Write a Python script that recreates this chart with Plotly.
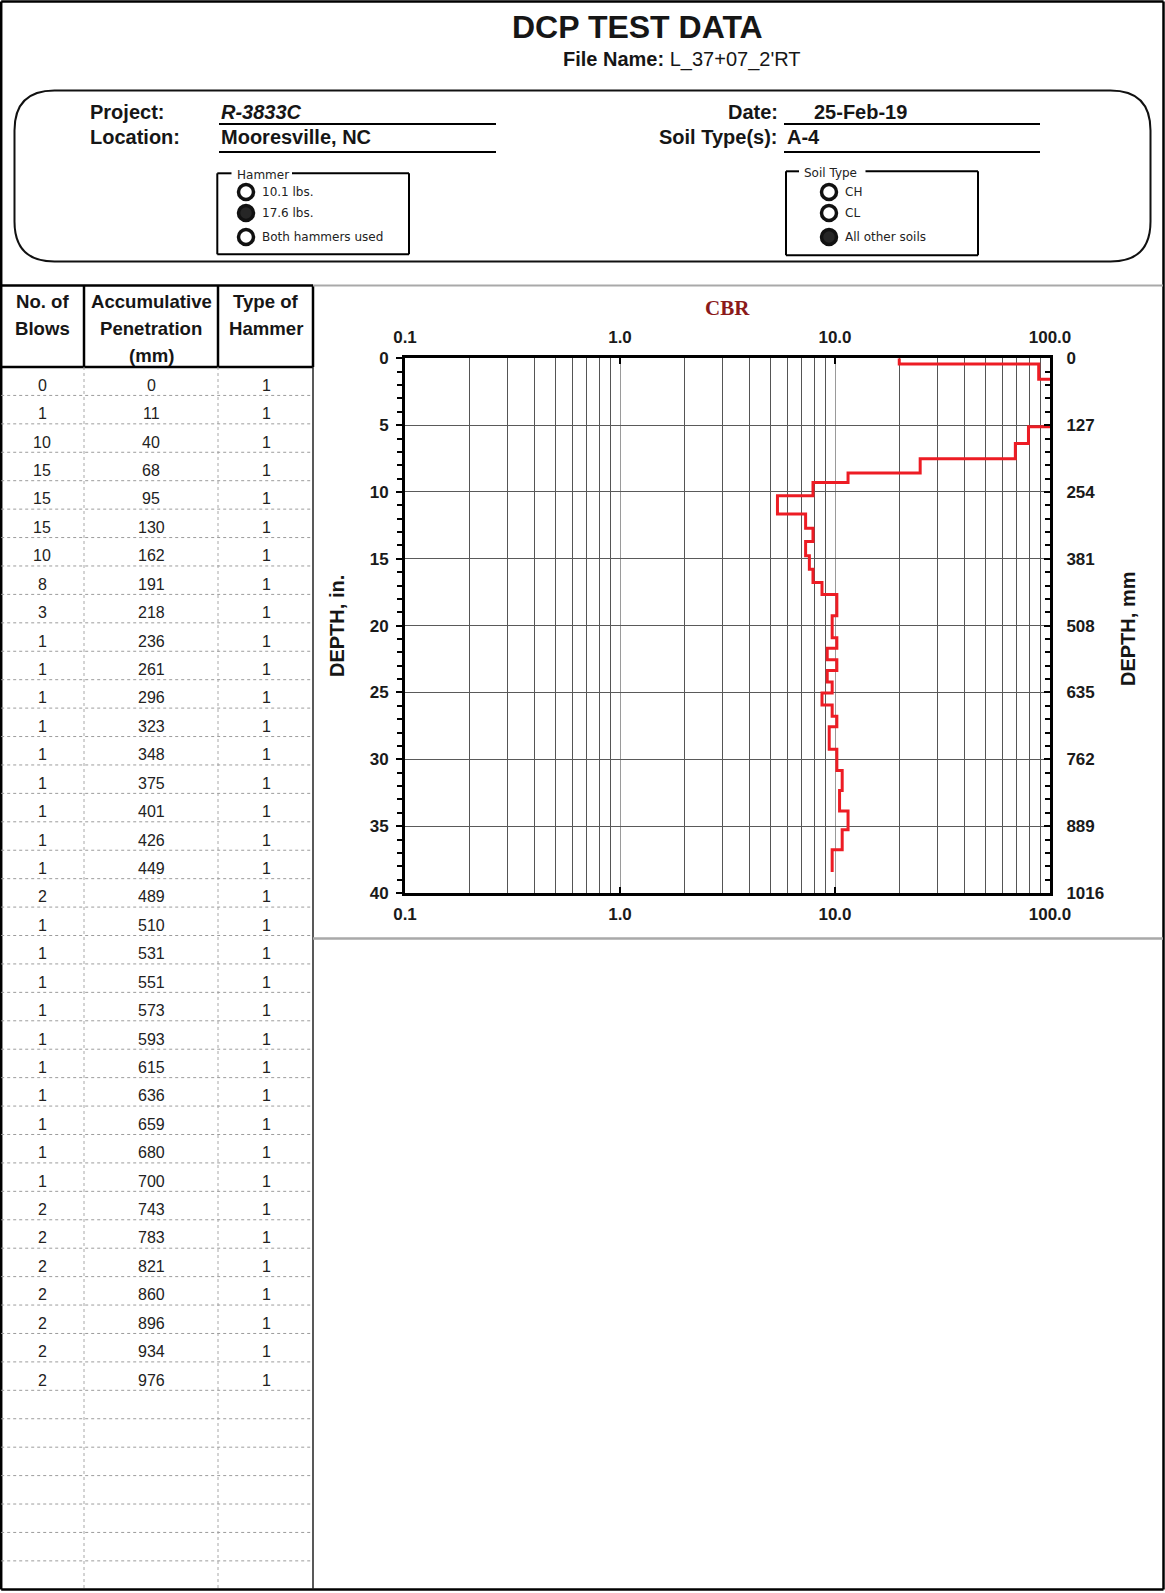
import plotly.graph_objects as go

W, H = 1165, 1593

# ---- Test record -------------------------------------------------------
file_name = "L_37+07_2'RT"
project = "R-3833C"
location = "Mooresville, NC"
test_date = "25-Feb-19"
soil_types = "A-4"

blows = [0, 1, 10, 15, 15, 15, 10, 8, 3, 1, 1, 1, 1, 1, 1, 1, 1, 1, 2,
         1, 1, 1, 1, 1, 1, 1, 1, 1, 1, 2, 2, 2, 2, 2, 2, 2]
penetration_mm = [0, 11, 40, 68, 95, 130, 162, 191, 218, 236, 261, 296, 323,
                  348, 375, 401, 426, 449, 489, 510, 531, 551, 573, 593, 615,
                  636, 659, 680, 700, 743, 783, 821, 860, 896, 934, 976]
hammer_type = [1, 1, 1, 1, 1, 1, 1, 1, 1, 1, 1, 1, 1, 1, 1, 1, 1, 1, 1,
               1, 1, 1, 1, 1, 1, 1, 1, 1, 1, 1, 1, 1, 1, 1, 1, 1]
empty_rows = 7

# CBR of each penetration interval (one value per interval between readings)
cbr = [19.9, 88.6, 145.1, 151.2, 113.0, 79.4, 69.0, 24.9, 11.5, 7.9, 5.4,
       7.3, 7.9, 7.3, 7.6, 7.9, 8.7, 10.2, 9.7, 9.7, 10.2, 9.2, 10.2, 9.2,
       9.7, 8.7, 9.7, 10.2, 9.4, 10.2, 10.8, 10.5, 11.5, 10.8, 9.7]

cbr_ticks = [0.1, 1, 10, 100]
cbr_tick_text = ["0.1", "1.0", "10.0", "100.0"]
depth_ticks_in = [0, 5, 10, 15, 20, 25, 30, 35, 40]

# ---- helpers -------------------------------------------------------------
def X(px):
    return px / W


def Y(py):
    return 1 - py / H


shapes = []
annotations = []


def line(x0, y0, x1, y1, color="black", width=2, dash=None):
    ln = dict(color=color, width=width)
    if dash:
        ln["dash"] = dash
    shapes.append(dict(type="line", xref="paper", yref="paper",
                       x0=X(x0), y0=Y(y0), x1=X(x1), y1=Y(y1), line=ln))


def text(x, y, s, size, anchor="center", color="#161616",
         family="Arial, Liberation Sans, sans-serif", angle=0):
    annotations.append(dict(x=X(x), y=Y(y), xref="paper", yref="paper",
                            text=s, showarrow=False, xanchor=anchor,
                            yanchor="middle", textangle=angle,
                            font=dict(size=size, color=color, family=family)))


def radio(cx, cy, selected):
    r = 7.5
    shapes.append(dict(type="circle", xref="paper", yref="paper",
                       x0=X(cx - r), x1=X(cx + r), y0=Y(cy + r), y1=Y(cy - r),
                       fillcolor="#262626" if selected else "white",
                       line=dict(color="#111", width=3.5)))


# ---- page frame and header ----------------------------------------------
line(1.2, 1.5, 1163.5, 1.5, width=2.5)
line(1.2, 1.5, 1.2, 1589.5, width=2.5)
line(1163.5, 1.5, 1163.5, 1589.5, width=2.5)
line(1.2, 1589.5, 1163.5, 1589.5, width=2.5)

text(637, 27, "<b>DCP TEST DATA</b>", 32)
text(682, 60, "<b>File Name:</b> " + file_name, 20)

# rounded info panel
x0, y0, x1, y1, r = 14.5, 90.5, 1150.5, 261.5, 40
pts = lambda x, y: f"{X(x):.6f},{Y(y):.6f}"
panel = (f"M {pts(x0 + r, y0)} L {pts(x1 - r, y0)} Q {pts(x1, y0)} {pts(x1, y0 + r)} "
         f"L {pts(x1, y1 - r)} Q {pts(x1, y1)} {pts(x1 - r, y1)} "
         f"L {pts(x0 + r, y1)} Q {pts(x0, y1)} {pts(x0, y1 - r)} "
         f"L {pts(x0, y0 + r)} Q {pts(x0, y0)} {pts(x0 + r, y0)} Z")
shapes.append(dict(type="path", xref="paper", yref="paper", path=panel,
                   line=dict(color="#111", width=2)))

text(88, 112, "<b>Project:</b>", 20, anchor="left")
text(88, 137, "<b>Location:</b>", 20, anchor="left")
text(219, 112, "<b><i>" + project + "</i></b>", 20, anchor="left")
text(219, 137, "<b>" + location + "</b>", 20, anchor="left")
line(219, 124, 496, 124, width=2)
line(219, 152, 496, 152, width=2)

text(780, 112, "<b>Date:</b>", 20, anchor="right")
text(780, 137, "<b>Soil Type(s):</b>", 20, anchor="right")
text(812, 112, "<b>" + test_date + "</b>", 20, anchor="left")
text(785, 137, "<b>" + soil_types + "</b>", 20, anchor="left")
line(784, 124, 1040, 124, width=2)
line(784, 152, 1040, 152, width=2)

# option group boxes
small = "DejaVu Sans, Verdana, sans-serif"


def group(left, right, top, bottom, gap0, gap1, title, options, chosen, dot_x):
    line(left, top, gap0, top, width=2)
    line(gap1, top, right, top, width=2)
    line(left, top, left, bottom, width=2)
    line(right, top, right, bottom, width=2)
    line(left, bottom, right, bottom, width=2)
    text(gap0 + 3, top + 1.5, title, 12, anchor="left", family=small, color="#222")
    for i, (opt, cy) in enumerate(zip(options, [192, 213, 237])):
        radio(dot_x, cy, i == chosen)
        text(dot_x + 14, cy, opt, 12, anchor="left", family=small, color="#222")


group(217.3, 409, 173.3, 254.3, 231.5, 292, "Hammer",
      ["10.1 lbs.", "17.6 lbs.", "Both hammers used"], 1, 246)
group(786, 978, 171.3, 255.3, 799, 865.5, "Soil Type",
      ["CH", "CL", "All other soils"], 2, 829)

# ---- data table ---------------------------------------------------------
tbl_top, head_bot, tbl_bot = 285.5, 367, 1589.3
col_x = [1.2, 84, 218, 313]
col_c = [42, 151, 266]
n_rows = len(blows) + empty_rows
row_h = (tbl_bot - head_bot) / n_rows

line(0, tbl_top, 313, tbl_top, width=2.5)
line(0, head_bot, 313, head_bot, width=2.5)
for cx in col_x[1:]:
    line(cx, tbl_top, cx, head_bot, width=2.5)
line(313, head_bot, 313, tbl_bot, color="#222", width=1.5)
for cx in col_x[1:3]:
    line(cx, head_bot, cx, tbl_bot, color="#a8a8a8", width=1, dash="dot")
for k in range(1, n_rows):
    yy = head_bot + k * row_h
    line(1.2, yy, 313, yy, color="#9c9c9c", width=1, dash="dot")

head_lines = [["No. of", "Blows"], ["Accumulative", "Penetration", "(mm)"],
              ["Type of", "Hammer"]]
for cx, lines_ in zip(col_c, head_lines):
    for j, s in enumerate(lines_):
        text(cx, 302 + j * 26.5, "<b>" + s + "</b>", 18.6)

for i, (b, p, t) in enumerate(zip(blows, penetration_mm, hammer_type)):
    yy = head_bot + (i + 0.5) * row_h + 4
    for cx, v in zip(col_c, (b, p, t)):
        text(cx, yy, str(v), 16, color="#222")

# ---- chart frame ----------------------------------------------------------
line(313, 285.5, 1163, 285.5, color="#a9a9a9", width=2)
line(313, 938.5, 1163, 938.5, color="#a9a9a9", width=2.5)

text(727.5, 307.5, "<b>CBR</b>", 21, color="#8B1A1A",
     family="Liberation Serif, Times New Roman, serif")
text(337, 626, "<b>DEPTH, in.</b>", 20, angle=-90)
text(1128, 629, "<b>DEPTH, mm</b>", 20, angle=-90)

# ---- CBR profile ----------------------------------------------------------
depth_in = [p / 25.4 for p in penetration_mm]
step_x = cbr + [cbr[-1]]
step_y = depth_in

fig = go.Figure()
fig.add_trace(go.Scatter(x=step_x, y=step_y, mode="lines",
                         line=dict(color="#ED1C24", width=3, shape="vh"),
                         xaxis="x", yaxis="y", showlegend=False,
                         hoverinfo="skip"))
fig.add_trace(go.Scatter(x=[1], y=[0], mode="markers", marker=dict(opacity=0),
                         xaxis="x2", yaxis="y2", showlegend=False,
                         hoverinfo="skip"))

minor_cbr = [m * d for d in (0.1, 1, 10) for m in range(2, 10)]
bold_cbr = ["<b>" + s + "</b>" for s in cbr_tick_text]
bold_in = ["<b>" + str(v) + "</b>" for v in depth_ticks_in]
bold_mm = ["<b>" + str(round(v * 25.4)) + "</b>" for v in depth_ticks_in]
tick_font = dict(size=17, color="#1a1a1a", family="Arial, Liberation Sans, sans-serif")

x_dom = [X(405), X(1050)]
y_dom = [Y(893), Y(358.3)]

common_x = dict(type="log", range=[-1, 2], tickmode="array",
                tickvals=cbr_ticks, ticktext=bold_cbr, ticks="inside",
                ticklen=6, tickwidth=2, tickcolor="black", showline=True,
                linewidth=3, linecolor="black", tickfont=tick_font,
                zeroline=False, fixedrange=True, automargin=False)
common_y = dict(range=[40, 0], tickmode="array", tickvals=depth_ticks_in,
                showline=True, linewidth=3, linecolor="black",
                tickfont=tick_font, zeroline=False, fixedrange=True,
                tickcolor="black", tickwidth=2, ticklen=6, automargin=False)

fig.update_layout(
    width=W, height=H, autosize=False,
    margin=dict(l=0, r=0, t=0, b=0, pad=0, autoexpand=False),
    paper_bgcolor="white", plot_bgcolor="white",
    font=dict(family="Arial, Liberation Sans, sans-serif"),
    showlegend=False,
    xaxis=dict(common_x, domain=x_dom, anchor="y", side="bottom",
               showgrid=True, gridcolor="#9a9a9a", gridwidth=1,
               ticklabelstandoff=4,
               minor=dict(tickmode="array", tickvals=minor_cbr, ticks="",
                          showgrid=True, gridcolor="#555555", gridwidth=1)),
    xaxis2=dict(common_x, overlaying="x", anchor="y", side="top",
                showgrid=False, ticklabelstandoff=6),
    yaxis=dict(common_y, domain=y_dom, anchor="x", side="left",
               ticktext=bold_in, ticks="outside", ticklabelstandoff=4,
               showgrid=True, gridcolor="#5a5a5a", gridwidth=1,
               minor=dict(dtick=1, tick0=0, ticks="outside", ticklen=5,
                          tickwidth=1.5, tickcolor="black", showgrid=False)),
    yaxis2=dict(common_y, overlaying="y", anchor="x", side="right",
                ticktext=bold_mm, ticks="inside", showgrid=False,
                ticklabelstandoff=10,
                minor=dict(dtick=1, tick0=0, ticks="inside", ticklen=5,
                           tickwidth=1.5, tickcolor="black", showgrid=False)),
    shapes=shapes,
    annotations=annotations,
)

fig.write_html("out.html")
